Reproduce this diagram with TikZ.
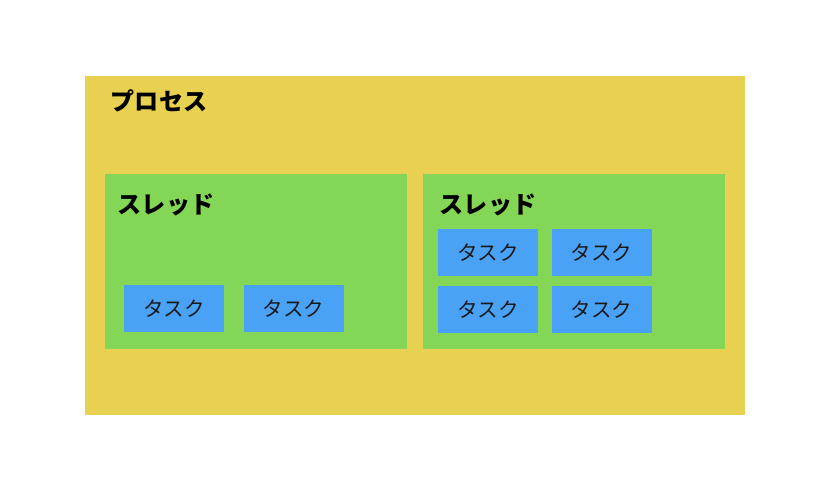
\documentclass[tikz,border=0pt]{standalone}
\usepackage{fontspec}
\setmainfont{Noto Sans CJK JP}
\usetikzlibrary{positioning}

\definecolor{procyellow}{HTML}{E8D050}
\definecolor{threadgreen}{HTML}{84D656}
\definecolor{taskblue}{HTML}{4AA2F7}

\begin{document}
\begin{tikzpicture}[
    x=0.02cm, y=-0.02cm,
    process/.style={fill=procyellow, minimum width=13.2cm, minimum height=6.78cm, inner sep=0pt},
    thread/.style={fill=threadgreen, minimum width=6.04cm, minimum height=3.5cm, inner sep=0pt},
    task/.style={fill=taskblue, minimum width=2cm, minimum height=0.94cm, inner sep=0pt, font=\fontsize{11.7}{13}\selectfont, text=black!90},
    title/.style={font=\fontsize{13.7}{15}\selectfont\bfseries, inner sep=0pt}
]
    \useasboundingbox (0,0) rectangle (836,480);

    \node[process] (proc) at (415,245.5) {};
    \node[title]   (proctitle) at (159,101) {プロセス};

    \node[thread] (thA) at (256,261.5) {};
    \node[title]  (thAtitle) at (166,205) {スレッド};
    \node[task]   (tA1) at (174,308.5) {タスク};
    \node[task]   (tA2) [right=0.38cm of tA1] {タスク};

    \node[thread] (thB) at (574,261.5) {};
    \node[title]  (thBtitle) at (488,205) {スレッド};
    \node[task]   (tB1) at (488,252.5) {タスク};
    \node[task]   (tB2) [right=0.26cm of tB1] {タスク};
    \node[task]   (tB3) [below=0.18cm of tB1] {タスク};
    \node[task]   (tB4) [right=0.26cm of tB3] {タスク};
\end{tikzpicture}
\end{document}
